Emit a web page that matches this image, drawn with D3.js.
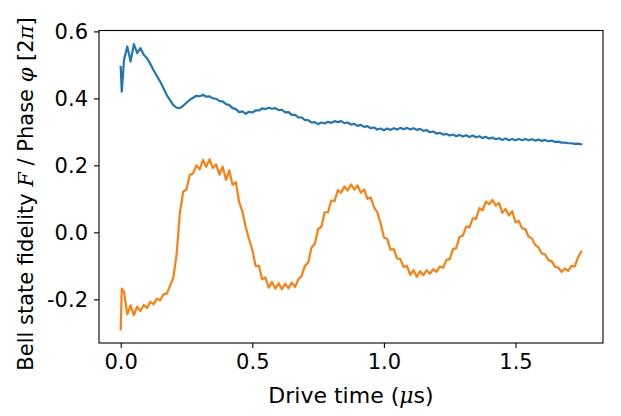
<!DOCTYPE html>
<html><head><meta charset="utf-8">
<script src="https://cdn.jsdelivr.net/npm/d3@7"></script>
<style>
body{margin:0;background:#fff;}
svg{display:block;}
.tick text{font-family:"DejaVu Sans",sans-serif;font-size:21px;fill:#000;}
</style></head>
<body><svg id="chart" width="621" height="416"></svg>
<script>
// Drive times (us): first two finely spaced, then 0.0125 us grid up to 1.75 us
const times = [0, 0.004].concat(d3.range(1, 141).map(k => k * 0.0125));

// Bell state fidelity F (blue)
const fidelity = [
 0.494, 0.420,
 0.515, 0.555, 0.510, 0.562, 0.535, 0.550, 0.530, 0.520, 0.503, 0.484,
 0.467, 0.450, 0.430, 0.410, 0.395, 0.380, 0.372, 0.371, 0.378, 0.387,
 0.396, 0.402, 0.408, 0.406, 0.411, 0.405, 0.406, 0.400, 0.399, 0.392,
 0.391, 0.383, 0.380, 0.371, 0.368, 0.359, 0.361, 0.354, 0.360, 0.358,
 0.364, 0.364, 0.370, 0.368, 0.372, 0.369, 0.371, 0.365, 0.366, 0.358,
 0.359, 0.351, 0.351, 0.343, 0.343, 0.335, 0.335, 0.328, 0.329, 0.323,
 0.328, 0.325, 0.330, 0.327, 0.332, 0.329, 0.332, 0.326, 0.328, 0.322,
 0.324, 0.318, 0.321, 0.315, 0.317, 0.311, 0.313, 0.307, 0.310, 0.305,
 0.310, 0.306, 0.311, 0.307, 0.312, 0.308, 0.312, 0.307, 0.311, 0.306,
 0.309, 0.303, 0.305, 0.299, 0.301, 0.295, 0.297, 0.292, 0.294, 0.289,
 0.292, 0.287, 0.291, 0.286, 0.290, 0.285, 0.289, 0.284, 0.287, 0.282,
 0.285, 0.280, 0.283, 0.278, 0.281, 0.276, 0.280, 0.275, 0.279, 0.275,
 0.279, 0.275, 0.279, 0.275, 0.278, 0.274, 0.277, 0.273, 0.276, 0.272,
 0.274, 0.270, 0.271, 0.268, 0.268, 0.266, 0.266, 0.264, 0.265, 0.263
];

// Phase phi [2pi] (orange)
const phase = [
 -0.290, -0.168,
 -0.178, -0.245, -0.218, -0.247, -0.222, -0.235, -0.217, -0.226, -0.207, -0.215,
 -0.198, -0.203, -0.185, -0.183, -0.160, -0.135, -0.065, 0.060, 0.122, 0.128,
 0.172, 0.176, 0.200, 0.188, 0.216, 0.196, 0.218, 0.192, 0.203, 0.172,
 0.196, 0.157, 0.185, 0.142, 0.150, 0.090, 0.062, 0.015, -0.020, -0.052,
 -0.100, -0.100, -0.140, -0.135, -0.165, -0.148, -0.168, -0.152, -0.170, -0.153,
 -0.167, -0.150, -0.163, -0.140, -0.130, -0.100, -0.090, -0.045, -0.035, 0.010,
 0.016, 0.060, 0.060, 0.095, 0.093, 0.126, 0.118, 0.137, 0.125, 0.143,
 0.128, 0.140, 0.118, 0.128, 0.100, 0.104, 0.075, 0.060, 0.027, -0.015,
 -0.020, -0.052, -0.050, -0.078, -0.080, -0.103, -0.100, -0.127, -0.113, -0.133,
 -0.116, -0.128, -0.113, -0.124, -0.110, -0.118, -0.102, -0.106, -0.082, -0.080,
 -0.050, -0.047, -0.013, -0.010, 0.017, 0.015, 0.042, 0.040, 0.072, 0.066,
 0.092, 0.084, 0.097, 0.080, 0.088, 0.058, 0.070, 0.050, 0.063, 0.030,
 0.034, 0.012, 0.010, -0.013, -0.018, -0.038, -0.045, -0.063, -0.066, -0.083,
 -0.086, -0.103, -0.105, -0.118, -0.108, -0.115, -0.100, -0.102, -0.075, -0.058
];

const xTicks = [0, 0.5, 1.0, 1.5];
const yTicks = [-0.2, 0.0, 0.2, 0.4, 0.6];
const seriesColors = ["#1f77b4", "#ff7f0e"];

const svg = d3.select("#chart");
const L = 99, R = 603, T = 30.5, B = 343;

const x = d3.scaleLinear().domain([-0.0825, 1.8325]).range([L, R]);
const y = d3.scaleLinear().domain([-0.3304, 0.6027]).range([B, T]);

const line = d3.line().x(d => x(d[0])).y(d => y(d[1]));

[fidelity, phase].forEach((vals, i) => {
  svg.append("path")
    .datum(times.map((t, j) => [t, vals[j]]))
    .attr("d", line)
    .attr("fill", "none")
    .attr("stroke", seriesColors[i])
    .attr("stroke-width", 2.2)
    .attr("stroke-linejoin", "round")
    .attr("stroke-linecap", "square");
});

const fmt = d => (d < 0 ? "-" : "") + Math.abs(d).toFixed(1);

const gx = svg.append("g").attr("transform", `translate(0,${B})`)
  .call(d3.axisBottom(x).tickValues(xTicks).tickFormat(fmt).tickSize(5).tickPadding(6));
const gy = svg.append("g").attr("transform", `translate(${L},0)`)
  .call(d3.axisLeft(y).tickValues(yTicks).tickFormat(fmt).tickSize(5).tickPadding(6));
[gx, gy].forEach(g => {
  g.select(".domain").remove();
  g.selectAll(".tick line").attr("stroke", "#000").attr("stroke-width", 1.1);
});

svg.append("rect").attr("x", L).attr("y", T).attr("width", R - L).attr("height", B - T)
  .attr("fill", "none").attr("stroke", "#000").attr("stroke-width", 1.1);

// x label
const xl = svg.append("text")
  .attr("x", (L + R) / 2).attr("y", 403)
  .attr("text-anchor", "middle")
  .style("font-family", "DejaVu Sans, sans-serif").style("font-size", "22px");
xl.append("tspan").text("Drive time (");
xl.append("tspan").style("font-family", "DejaVu Serif, serif").style("font-style", "italic").text("μ");
xl.append("tspan").text("s)");

// y label
const yl = svg.append("text")
  .attr("transform", `translate(33,194) rotate(-90)`)
  .attr("text-anchor", "middle")
  .style("font-family", "DejaVu Sans, sans-serif").style("font-size", "21px");
yl.append("tspan").text("Bell state fidelity ");
yl.append("tspan").style("font-family", "DejaVu Serif, serif").style("font-style", "italic").text("F");
yl.append("tspan").text(" / Phase ");
yl.append("tspan").style("font-family", "DejaVu Serif, serif").style("font-style", "italic").text("φ");
yl.append("tspan").text(" [2");
yl.append("tspan").style("font-family", "DejaVu Serif, serif").style("font-style", "italic").text("π");
yl.append("tspan").text("]");
</script>
</body></html>
